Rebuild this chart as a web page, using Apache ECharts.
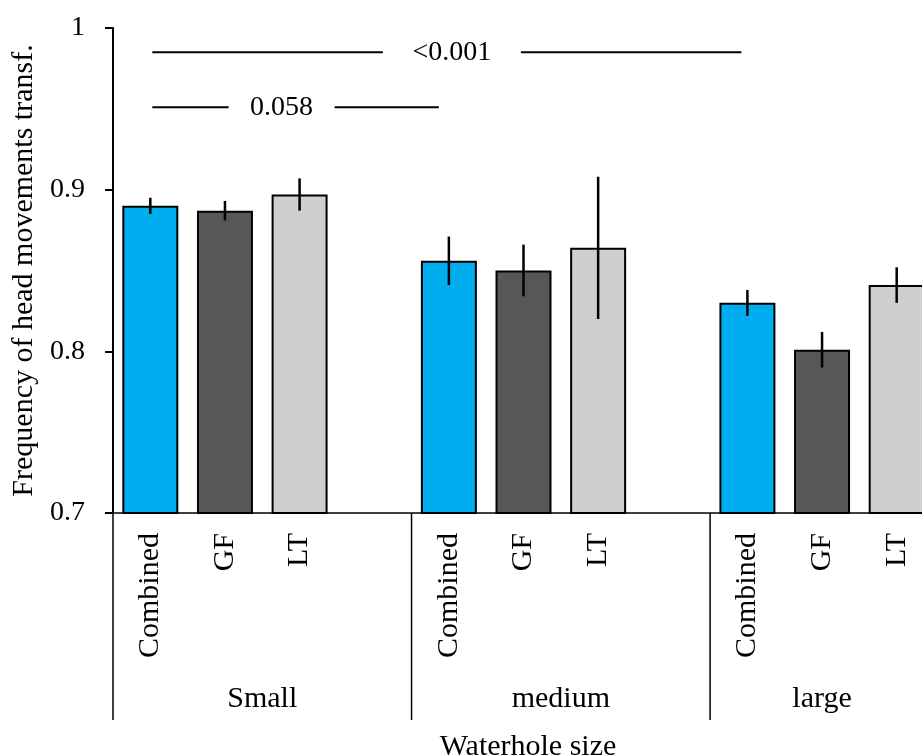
<!DOCTYPE html>
<html>
<head>
<meta charset="utf-8">
<script src="https://cdn.jsdelivr.net/npm/echarts@6/dist/echarts.min.js"></script>
<style>
html,body{margin:0;padding:0;background:#fff;overflow:hidden;width:922px;height:756px;}
#chart{width:934px;height:756px;}
</style>
</head>
<body>
<div id="chart"></div>
<script>
var groups = ['Small', 'medium', 'large'];
var subgroups = ['Combined', 'GF', 'LT'];
var combinedMeans = [0.890, 0.856, 0.830];
var gfMeans = [0.887, 0.850, 0.801];
var ltMeans = [0.897, 0.864, 0.841];
var combinedErr = [0.005, 0.015, 0.008];
var gfErr = [0.006, 0.016, 0.011];
var ltErr = [0.010, 0.044, 0.011];
var sigLabels = ['<0.001', '0.058'];
var sigLevels = [0.985, 0.951];
var sigFrom = [0, 0];
var sigTo = [8, 4];

var colors = ['#00AEEF', '#575757', '#D0CECE'];
var FONT = 'Liberation Serif';

var categories = [];
var barData = [];
var errData = [];
var groupData = [];
var means = [combinedMeans, gfMeans, ltMeans];
var errs = [combinedErr, gfErr, ltErr];
for (var g = 0; g < groups.length; g++) {
  var first = categories.length;
  for (var s = 0; s < subgroups.length; s++) {
    var idx = categories.length;
    categories.push(subgroups[s]);
    barData.push({value: means[s][g], itemStyle: {color: colors[s]}});
    errData.push([idx, means[s][g] - errs[s][g], means[s][g] + errs[s][g]]);
  }
  if (g < groups.length - 1) {
    categories.push('');
    barData.push(null);
  }
  groupData.push([first, categories.length - 1, g]);
}
var sigData = sigLabels.map(function (t, i) { return [sigFrom[i], sigTo[i], sigLevels[i], i]; });
var sigStyle = [{gap: 69, dx: 5, trim: 6}, {gap: 53, dx: -14, trim: 10}];

var chart = echarts.init(document.getElementById('chart'));
chart.setOption({
  animation: false,
  backgroundColor: '#fff',
  textStyle: {fontFamily: FONT},
  title: {
    text: 'Waterhole size',
    left: 523, top: 727,
    textAlign: 'center',
    textStyle: {fontFamily: FONT, fontSize: 30, fontWeight: 'normal', color: '#000'}
  },
  grid: {left: 113, top: 28, right: 0, bottom: 243, containLabel: false},
  xAxis: {
    type: 'category',
    data: categories,
    axisLine: {lineStyle: {color: '#000', width: 1.5}},
    axisTick: {show: false},
    axisLabel: {rotate: 90, margin: 20, color: '#000', fontFamily: FONT, fontSize: 30, interval: 0}
  },
  yAxis: {
    type: 'value',
    min: 0.7, max: 1, interval: 0.1,
    name: 'Frequency of head movements transf.',
    nameLocation: 'middle',
    nameGap: 72,
    nameTextStyle: {color: '#000', fontFamily: FONT, fontSize: 30},
    axisLine: {show: true, lineStyle: {color: '#000', width: 2}},
    axisTick: {show: true, inside: false, length: 8, lineStyle: {color: '#000', width: 2}},
    axisLabel: {
      margin: 28, color: '#000', fontFamily: FONT, fontSize: 28,
      formatter: function (v) { return String(parseFloat(v.toFixed(2))); }
    },
    splitLine: {show: false}
  },
  series: [{
    type: 'bar',
    data: barData,
    barWidth: '75%',
    itemStyle: {borderColor: '#000', borderWidth: 2},
    silent: true
  }, {
    type: 'custom',
    data: errData,
    silent: true,
    z: 5,
    renderItem: function (params, api) {
      var p1 = api.coord([api.value(0), api.value(1)]);
      var p2 = api.coord([api.value(0), api.value(2)]);
      return {
        type: 'line',
        shape: {x1: p1[0], y1: p1[1], x2: p2[0], y2: p2[1]},
        style: {stroke: '#000', lineWidth: 2.5}
      };
    }
  }, {
    type: 'custom',
    data: groupData,
    silent: true,
    clip: false,
    z: 6,
    renderItem: function (params, api) {
      var bw = api.size([1, 0])[0];
      var a = api.coord([api.value(0), 0.7]);
      var b = api.coord([api.value(1), 0.7]);
      var xl = a[0] - bw / 2, xr = b[0] + bw / 2, y0 = a[1];
      return {
        type: 'group',
        children: [
          {type: 'line', shape: {x1: xl, y1: y0, x2: xl, y2: y0 + 207}, style: {stroke: '#000', lineWidth: 1.5}},
          {type: 'text', style: {text: groups[api.value(2)], x: (xl + xr) / 2, y: y0 + 186, align: 'center', verticalAlign: 'middle',
            font: '30px "' + FONT + '"', fill: '#000'}}
        ]
      };
    }
  }, {
    type: 'custom',
    data: sigData,
    silent: true,
    clip: false,
    z: 6,
    renderItem: function (params, api) {
      var i = api.value(3);
      var st = sigStyle[i];
      var a = api.coord([api.value(0), api.value(2)]);
      var b = api.coord([api.value(1), api.value(2)]);
      var x1 = a[0] + 2, x2 = b[0] - st.trim, y = a[1];
      var mid = (x1 + x2) / 2 + st.dx;
      return {
        type: 'group',
        children: [
          {type: 'line', shape: {x1: x1, y1: y, x2: mid - st.gap, y2: y}, style: {stroke: '#000', lineWidth: 2}},
          {type: 'line', shape: {x1: mid + st.gap, y1: y, x2: x2, y2: y}, style: {stroke: '#000', lineWidth: 2}},
          {type: 'text', style: {text: sigLabels[i], x: mid, y: y, align: 'center', verticalAlign: 'middle',
            font: '28px "' + FONT + '"', fill: '#000'}}
        ]
      };
    }
  }]
});
</script>
</body>
</html>
